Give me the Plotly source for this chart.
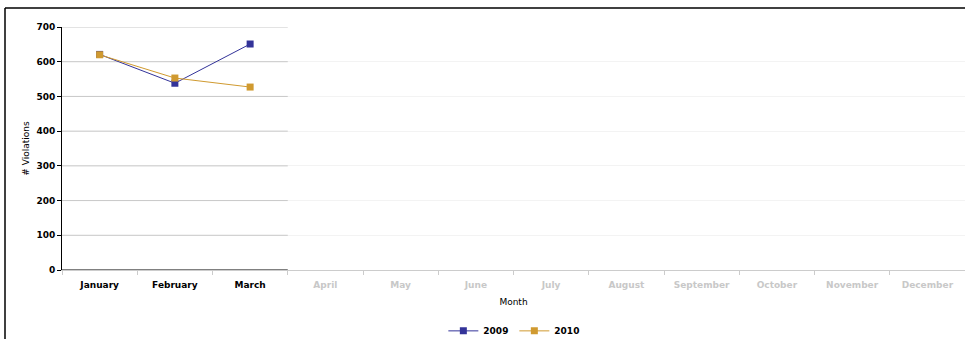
import plotly.graph_objects as go

months = ["January", "February", "March", "April", "May", "June", "July",
          "August", "September", "October", "November", "December"]
active_months = 3
series_2009 = [621, 538, 651]
series_2010 = [620, 553, 527]
y_ticks = [0, 100, 200, 300, 400, 500, 600, 700]

W, H = 965, 339
ML, MR, MT, MB = 62, 0, 27, 69
plot_w = W - ML - MR
plot_h = H - MT - MB

FONT = "DejaVu Sans"
tick_text = [
    ("<b>%s</b>" % m) if i < active_months else
    ("<span style='color:#c8c8c8'><b>%s</b></span>" % m)
    for i, m in enumerate(months)
]
y_tick_text = ["<b>%d</b>" % v for v in y_ticks]

fig = go.Figure()
fig.add_trace(go.Scatter(
    x=months[:len(series_2009)], y=series_2009, name="<b>2009</b>",
    mode="lines+markers",
    line=dict(color="#333399", width=1),
    marker=dict(symbol="square", size=7, color="#333399"),
))
fig.add_trace(go.Scatter(
    x=months[:len(series_2010)], y=series_2010, name="<b>2010</b>",
    mode="lines+markers",
    line=dict(color="#D09A30", width=1),
    marker=dict(symbol="square", size=7, color="#D09A30"),
))

shapes = []
for v in y_ticks[1:]:
    shapes.append(dict(type="line", xref="x", yref="y",
                       x0=-0.5, x1=active_months - 0.5, y0=v, y1=v,
                       line=dict(color="#c8c8c8", width=1), layer="between"))
shapes.append(dict(type="line", xref="x", yref="y",
                   x0=-0.5, x1=active_months - 0.5, y0=0, y1=0,
                   line=dict(color="#000000", width=1)))
for i in range(active_months + 1):
    shapes.append(dict(type="line", xref="x", yref="y",
                       x0=i - 0.5, x1=i - 0.5, y0=0, y1=-12,
                       line=dict(color="#000000", width=1)))
fx = -(ML - 5) / plot_w
fy = 1 + (MT - 8) / plot_h
shapes.append(dict(type="line", xref="paper", yref="paper",
                   x0=fx, x1=1.01, y0=fy, y1=fy,
                   line=dict(color="#000000", width=1.5)))
shapes.append(dict(type="line", xref="paper", yref="paper",
                   x0=fx, x1=fx, y0=fy, y1=-1,
                   line=dict(color="#000000", width=1.5)))

fig.update_layout(
    width=W, height=H,
    margin=dict(l=ML, r=MR, t=MT, b=MB, autoexpand=False),
    paper_bgcolor="white", plot_bgcolor="white",
    font=dict(family=FONT, size=8, color="#000000"),
    showlegend=True,
    legend=dict(orientation="h", x=0.533, xref="container", xanchor="center",
                y=0.024, yref="container", yanchor="middle",
                font=dict(family=FONT, size=9, color="#000000"),
                itemwidth=30, tracegroupgap=0, entrywidth=26,
                entrywidthmode="pixels"),
    shapes=shapes,
    xaxis=dict(
        type="category", categoryorder="array", categoryarray=months,
        range=[-0.5, len(months) - 0.5],
        tickmode="array", tickvals=months, ticktext=tick_text,
        tickson="boundaries", ticks="outside", ticklen=4, tickcolor="#cccccc",
        ticklabelstandoff=6,
        showline=True, linecolor="#cccccc", linewidth=1,
        showgrid=False, zeroline=False, automargin=False,
        tickfont=dict(family=FONT, size=9, color="#000000"),
        title=dict(text="Month", standoff=9,
                   font=dict(family=FONT, size=9, color="#000000")),
        fixedrange=True,
    ),
    yaxis=dict(
        range=[0, 700], tickmode="array", tickvals=y_ticks, ticktext=y_tick_text,
        ticks="outside", ticklen=4, tickcolor="#000000",
        showline=True, linecolor="#000000", linewidth=1,
        showgrid=True, gridcolor="#f3f3f3", gridwidth=1,
        zeroline=False, automargin=False,
        tickfont=dict(family=FONT, size=9, color="#000000"),
        title=dict(text="# Violations", standoff=5,
                   font=dict(family=FONT, size=9, color="#000000")),
        fixedrange=True,
    ),
)

fig.write_html("out.html")
